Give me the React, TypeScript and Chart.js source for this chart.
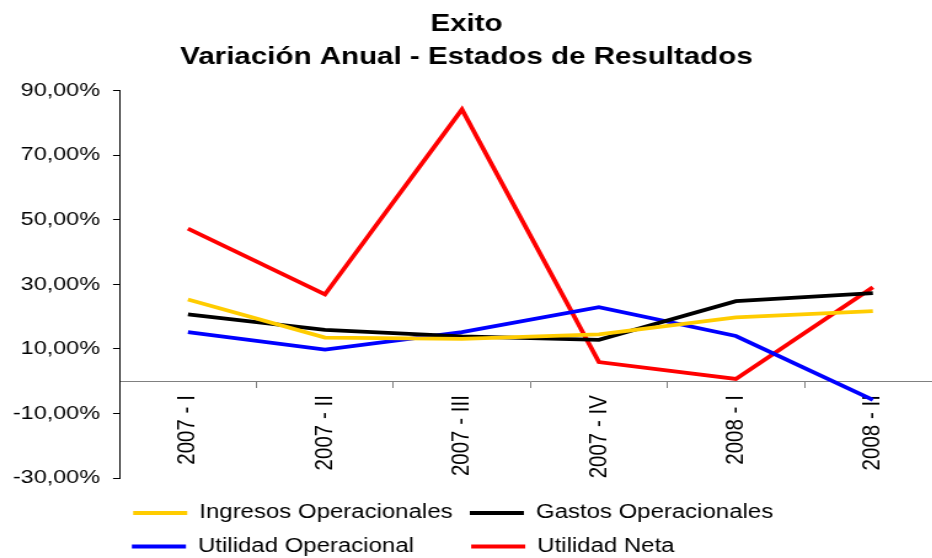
import React, { useEffect, useRef } from 'react';
import { Chart, registerables } from 'chart.js';

Chart.register(...registerables);

// ---- data ----
const categories = ['2007 - I', '2007 - II', '2007 - III', '2007 - IV', '2008 - I', '2008 - II'];
const ingresosOperacionales = [25.3, 13.5, 13.1, 14.5, 19.8, 21.7];
const gastosOperacionales = [20.7, 15.9, 13.9, 12.8, 24.8, 27.3];
const utilidadOperacional = [15.2, 9.8, 15.2, 22.9, 14.0, -5.8];
const utilidadNeta = [47.3, 26.9, 84.2, 5.9, 0.7, 29.1];
const seriesNames = ['Ingresos Operacionales', 'Gastos Operacionales', 'Utilidad Operacional', 'Utilidad Neta'];
const seriesColors = ['#FFCC00', '#000000', '#0000FF', '#FF0000'];
const titleLines = ['Exito', 'Variación Anual - Estados de Resultados'];
const yMin = -30;
const yMax = 90;
const yStep = 20;

// ---- presentation ----
const FONT = "'Liberation Sans', Arial, Helvetica, sans-serif";
const INTERNAL_W = 770;
const H = 558;
const STRETCH = 1.23;
const legendPad = [0, 4, 6, 19];

const formatPct = (v: number) => v.toFixed(2).replace('.', ',') + '%';

export default function App() {
  const canvasRef = useRef<HTMLCanvasElement | null>(null);

  useEffect(() => {
    const canvas = canvasRef.current;
    if (!canvas) return;
    const series = [ingresosOperacionales, gastosOperacionales, utilidadOperacional, utilidadNeta];
    const chart = new Chart(canvas, {
      type: 'line',
      data: {
        labels: categories,
        datasets: series.map((values, i) => ({
          label: seriesNames[i],
          data: values,
          borderColor: seriesColors[i],
          backgroundColor: seriesColors[i],
          borderWidth: 3.8,
          pointRadius: 0,
          pointHoverRadius: 0,
          tension: 0,
          fill: false,
        })),
      },
      options: {
        responsive: false,
        devicePixelRatio: 1,
        animation: false,
        events: [],
        layout: { padding: { left: -6.8, right: 4.6, top: 0, bottom: -8.35 } },
        scales: {
          x: {
            type: 'category',
            offset: true,
            position: { y: 0 } as any,
            grid: { offset: true, drawOnChartArea: false, drawTicks: true, tickLength: 6, color: '#808080' },
            border: { display: true, color: '#808080', width: 1 },
            ticks: {
              autoSkip: false,
              minRotation: 90,
              maxRotation: 90,
              padding: 8,
              color: '#000',
              font: { family: FONT, size: 20.5 },
            },
          },
          y: {
            type: 'linear',
            min: yMin,
            max: yMax,
            afterFit: (scale: any) => {
              scale.width = 103.95;
            },
            grid: { drawOnChartArea: false, drawTicks: true, tickLength: 5.25, color: '#000' },
            border: { display: true, color: '#000', width: 1 },
            ticks: {
              stepSize: yStep,
              padding: 10.6,
              color: '#000',
              font: { family: FONT, size: 19 },
              callback: (v: any) => formatPct(Number(v)),
            },
          },
        },
        plugins: {
          tooltip: { enabled: false },
          title: {
            display: true,
            text: titleLines,
            color: '#000',
            font: { family: FONT, size: 24, weight: 'bold', lineHeight: 1.375 },
            padding: { top: 8.0, bottom: 16.7 },
          },
          legend: {
            display: true,
            position: 'bottom',
            align: 'center',
            title: { display: true, text: '', font: { size: 1, lineHeight: 1 }, padding: { top: 0, bottom: 10.35 } },
            labels: {
              boxWidth: 44,
              boxHeight: 4,
              padding: 14,
              color: '#000',
              font: { family: FONT, size: 19.5 },
              generateLabels: (c: any) => {
                const items = Chart.defaults.plugins.legend.labels.generateLabels(c);
                return items.map((it: any, i: number) => ({
                  ...it,
                  text: seriesNames[i] + ' '.repeat(legendPad[i]),
                  fillStyle: seriesColors[i],
                  strokeStyle: seriesColors[i],
                  lineWidth: 0,
                }));
              },
            },
          },
        },
      } as any,
    });
    return () => chart.destroy();
  }, []);

  return (
    <div
      style={{
        position: 'fixed',
        left: 0,
        top: 0,
        width: 932,
        height: H,
        overflow: 'hidden',
        background: '#fff',
      }}
    >
      <canvas
        ref={canvasRef}
        width={INTERNAL_W}
        height={H}
        style={{ display: 'block', width: `${INTERNAL_W * STRETCH}px`, height: `${H}px` }}
      />
    </div>
  );
}
